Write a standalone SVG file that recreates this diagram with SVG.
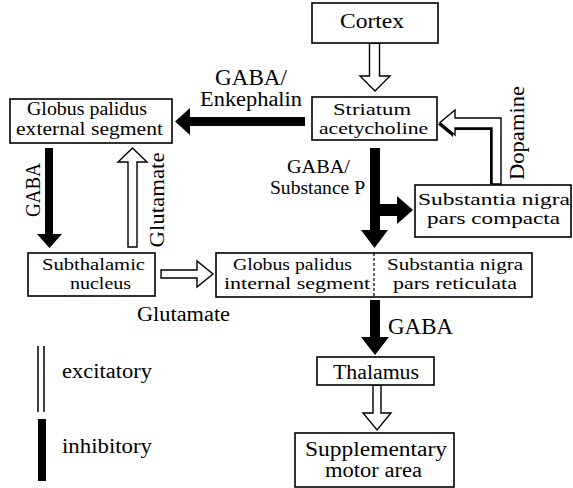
<svg xmlns="http://www.w3.org/2000/svg" width="573" height="488" viewBox="0 0 573 488" font-family="'Liberation Serif', serif">
<style>
text{font-family:"Liberation Serif","Times New Roman",serif;fill:#000}
.box{fill:#fff;stroke:#000;stroke-width:1.6}
.exc{fill:#fff;stroke:#000;stroke-width:1.4;stroke-linejoin:miter}
.inh{fill:#000;stroke:none}
</style>
<rect width="573" height="488" fill="#fff"/>
<g id="connectors">
  <path class="exc" d="M369.5 43 L369.5 76 L360 76 L375 91 L390 76 L379.5 76 L379.5 43 Z"/>
  <path class="inh" d="M305 117 L190 117 L190 108 L175 121.5 L190 135 L190 126 L305 126 Z"/>
  <path class="inh" d="M370 148 L380 148 L380 204 L397 204 L397 196 L413 210 L397 224 L397 216 L380 216 L380 230 L388 230 L374.5 248 L361 230 L370 230 Z"/>
  <path class="inh" d="M45 148 L53 148 L53 234 L62 234 L49.5 248 L37 234 L45 234 Z"/>
  <path class="exc" d="M128 247 L128 162 L118 162 L132.5 148 L147 162 L137 162 L137 247 Z"/>
  <path class="exc" d="M161 270 L197 270 L197 261 L213 274 L197 287 L197 278 L161 278 Z"/>
  <path class="inh" d="M370 300 L380 300 L380 337 L389 337 L375 355 L361 337 L370 337 Z"/>
  <path class="exc" d="M373 385 L373 413 L363 413 L377 430 L391 413 L381 413 L381 385 Z"/>
  <path class="inh" transform="translate(-2,2)" d="M492 182 L492 128 L455 128 L455 135 L440 122.5 L455 110 L455 118 L501 118 L501 182 Z"/>
  <path class="exc" d="M492 184 L492 128 L455 128 L455 135 L440 122.5 L455 110 L455 118 L501 118 L501 184 Z"/>
</g>
<g id="cortex">
  <rect class="box" x="312" y="3" width="126" height="40"/>
  <text x="340" y="28" font-size="21" textLength="64" lengthAdjust="spacingAndGlyphs">Cortex</text>
</g>
<g id="striatum">
  <rect class="box" x="312" y="97" width="125" height="43"/>
  <text x="333" y="115" font-size="16" textLength="78" lengthAdjust="spacingAndGlyphs">Striatum</text>
  <text x="319" y="134" font-size="16" textLength="109" lengthAdjust="spacingAndGlyphs">acetycholine</text>
</g>
<g id="gpe">
  <rect class="box" x="10" y="99" width="162" height="44"/>
  <text x="27" y="115" font-size="18" textLength="120" lengthAdjust="spacingAndGlyphs">Globus palidus</text>
  <text x="16" y="135" font-size="18" textLength="147" lengthAdjust="spacingAndGlyphs">external segment</text>
</g>
<g id="snc">
  <rect class="box" x="415" y="185" width="156" height="52"/>
  <text x="418" y="205" font-size="17" textLength="152" lengthAdjust="spacingAndGlyphs">Substantia nigra</text>
  <text x="427" y="224" font-size="17" textLength="133" lengthAdjust="spacingAndGlyphs">pars compacta</text>
</g>
<g id="stn">
  <rect class="box" x="28" y="253" width="127" height="43"/>
  <text x="42" y="270" font-size="16" textLength="103" lengthAdjust="spacingAndGlyphs">Subthalamic</text>
  <text x="70" y="289" font-size="16" textLength="61" lengthAdjust="spacingAndGlyphs">nucleus</text>
</g>
<g id="gpi-snr">
  <rect class="box" x="216" y="253" width="316" height="44"/>
  <line x1="374" y1="253" x2="374" y2="297" stroke="#000" stroke-width="1.2" stroke-dasharray="3,2"/>
  <text x="233" y="270" font-size="16" textLength="119" lengthAdjust="spacingAndGlyphs">Globus palidus</text>
  <text x="224" y="289" font-size="16" textLength="146" lengthAdjust="spacingAndGlyphs">internal segment</text>
  <text x="387" y="270" font-size="16" textLength="136" lengthAdjust="spacingAndGlyphs">Substantia nigra</text>
  <text x="393" y="289" font-size="16" textLength="124" lengthAdjust="spacingAndGlyphs">pars reticulata</text>
</g>
<g id="thalamus">
  <rect class="box" x="317" y="357" width="117" height="28"/>
  <text x="333" y="379" font-size="20" textLength="86" lengthAdjust="spacingAndGlyphs">Thalamus</text>
</g>
<g id="sma">
  <rect class="box" x="295" y="433" width="159" height="54"/>
  <text x="305" y="456" font-size="20" textLength="142" lengthAdjust="spacingAndGlyphs">Supplementary</text>
  <text x="325" y="477" font-size="20" textLength="97" lengthAdjust="spacingAndGlyphs">motor area</text>
</g>
<g id="labels">
  <text x="215" y="85" font-size="23" textLength="72" lengthAdjust="spacingAndGlyphs">GABA/</text>
  <text x="200" y="106" font-size="20" textLength="102" lengthAdjust="spacingAndGlyphs">Enkephalin</text>
  <text x="287" y="173" font-size="19" textLength="63" lengthAdjust="spacingAndGlyphs">GABA/</text>
  <text x="270" y="194" font-size="18" textLength="95" lengthAdjust="spacingAndGlyphs">Substance P</text>
  <text x="137" y="321" font-size="20" textLength="93" lengthAdjust="spacingAndGlyphs">Glutamate</text>
  <text x="388" y="334" font-size="24" textLength="65" lengthAdjust="spacingAndGlyphs">GABA</text>
  <text transform="translate(40,190) rotate(-90)" text-anchor="middle" font-size="20" textLength="54" lengthAdjust="spacingAndGlyphs">GABA</text>
  <text transform="translate(164,200) rotate(-90)" text-anchor="middle" font-size="20" textLength="95" lengthAdjust="spacingAndGlyphs">Glutamate</text>
  <text transform="translate(524,133) rotate(-90)" text-anchor="middle" font-size="20" textLength="94" lengthAdjust="spacingAndGlyphs">Dopamine</text>
</g>
<g id="legend">
  <line x1="38" y1="346" x2="38" y2="412" stroke="#000" stroke-width="1.5"/>
  <line x1="44" y1="346" x2="44" y2="412" stroke="#000" stroke-width="1.5"/>
  <rect x="38" y="419" width="8" height="62" fill="#000"/>
  <text x="62" y="378" font-size="20" textLength="90" lengthAdjust="spacingAndGlyphs">excitatory</text>
  <text x="62" y="453" font-size="20" textLength="90" lengthAdjust="spacingAndGlyphs">inhibitory</text>
</g>
</svg>
